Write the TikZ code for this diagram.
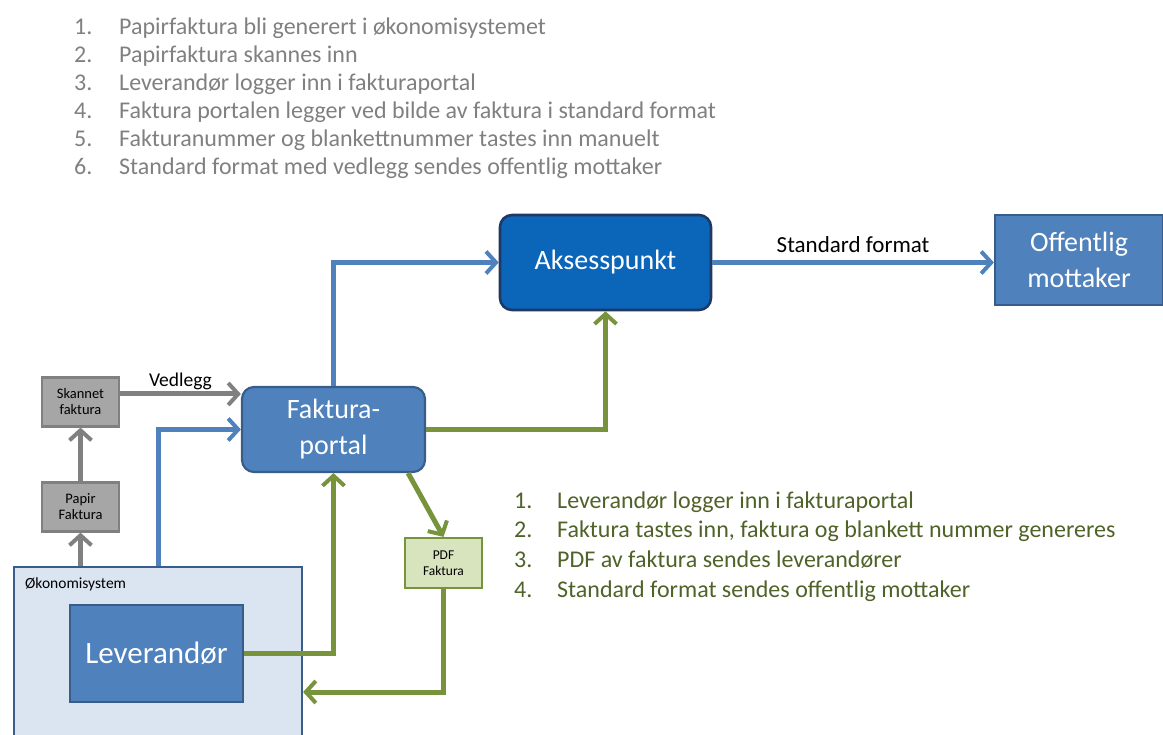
\documentclass[tikz,border=0pt]{standalone}
\usepackage{fontspec}
\setmainfont{Carlito}
\usetikzlibrary{positioning,calc,arrows.meta}

\definecolor{boxblue}{HTML}{4F81BD}
\definecolor{boxline}{HTML}{385D8A}
\definecolor{akblue}{HTML}{0B66BA}
\definecolor{akline}{HTML}{1F3864}
\definecolor{okofill}{HTML}{DBE5F1}
\definecolor{papgray}{HTML}{A6A6A6}
\definecolor{lingray}{HTML}{808080}
\definecolor{lingreen}{HTML}{77933C}
\definecolor{pdffill}{HTML}{D7E4BD}
\definecolor{txtgreen}{HTML}{4F6228}

\newcommand{\fs}[2]{\fontsize{#1}{#2}\selectfont}

\begin{document}
\begin{tikzpicture}[x=1pt, y=-1pt,
    bigbox/.style={draw=boxline, fill=boxblue, line width=2.2pt, text=white, align=center, font=\fs{28}{36}},
    smallbox/.style={draw=lingray, fill=papgray, line width=2.2pt, align=center, font=\fs{14.5}{16}, minimum width=77pt, minimum height=49pt, inner sep=0pt},
    flow/.style={line width=5pt, -{Straight Barb[length=10pt,width=22pt,line width=4pt]}},
    bflow/.style={flow, draw=boxblue},
    gflow/.style={flow, draw=lingreen},
    pflow/.style={flow, draw=lingray},
    greyitem/.style={anchor=base west, text=lingray, font=\fs{24}{24}, inner sep=0pt},
    greenitem/.style={anchor=base west, text=txtgreen, font=\fs{24}{24}, inner sep=0pt}
]
    \useasboundingbox (0,0) rectangle (1163,735);

    % steps, paper invoice
    \foreach \n/\t in {1/Papirfaktura bli generert i økonomisystemet,
                       2/Papirfaktura skannes inn,
                       3/Leverandør logger inn i fakturaportal,
                       4/Faktura portalen legger ved bilde av faktura i standard format,
                       5/Fakturanummer og blankettnummer tastes inn manuelt,
                       6/Standard format med vedlegg sendes offentlig mottaker}{
        \node[greyitem] (num\n) at (74,{35+28*(\n-1)}) {\n.};
        \node[greyitem] (step\n) at (119,{35+28*(\n-1)}) {\t};
    }

    \node[bigbox, fill=akblue, draw=akline, line width=2.6pt, rounded corners=12pt, minimum width=211pt, minimum height=95pt] (aks) at (605.5,262.5) {Aksesspunkt};
    \node[bigbox, minimum width=168pt, minimum height=90pt] (off) at (1079,260) {Offentlig\\mottaker};
    \node[bigbox, rounded corners=12pt, minimum width=183pt, minimum height=85pt] (portal) at (333.5,429.5) {Faktura-\\portal};

    \node[smallbox] (skan) at (80.5,402) {Skannet\\faktura};
    \node[smallbox] (papir) at (80.5,507) {Papir\\Faktura};

    \node[draw=boxline, fill=okofill, line width=2.2pt, minimum width=288pt, minimum height=180pt] (oko) at (158,657) {};
    \node[anchor=west, font=\fs{15.5}{16}, inner sep=0pt] (okolabel) at (25,584) {Økonomisystem};
    \node[bigbox, minimum width=173pt, minimum height=97pt, font=\fs{31}{36}] (lev) at (156.5,653.5) {Leverandør};

    \node[draw=lingreen, fill=pdffill, line width=2.2pt, minimum width=77pt, minimum height=50pt, inner sep=0pt, align=center, font=\fs{13.5}{16}] (pdf) at (443.5,563) {PDF\\Faktura};

    % paper route
    \draw[pflow] (oko.north -| papir.south) -- (papir.south);
    \draw[pflow] (papir.north) -- (skan.south);
    \draw[pflow] ([yshift=8pt]skan.east) -- node[above=-2pt, font=\fs{19.5}{20}, text=black] (vedl) {Vedlegg} ([yshift=8pt]skan.east -| portal.west);

    % blue route
    \draw[bflow] (oko.north) |- (portal.west);
    \draw[bflow] (portal.north) |- (aks.west);
    \draw[bflow] (aks.east) -- node[above=4pt, font=\fs{23}{24}, text=black] (stdf) {Standard format} (aks.east -| off.west);

    % green route
    \draw[gflow] (portal.east) -| (aks.south);
    \draw[gflow] (lev.east) -| (portal.south);
    \draw[gflow] ([xshift=-18pt]portal.south east) -- (pdf.north);
    \draw[gflow] (pdf.south) |- ([yshift=-35pt]oko.east);

    % steps, portal
    \foreach \n/\t in {1/Leverandør logger inn i fakturaportal,
                       2/{Faktura tastes inn, faktura og blankett nummer genereres},
                       3/PDF av faktura sendes leverandører,
                       4/Standard format sendes offentlig mottaker}{
        \node[greenitem] (gnum\n) at (514,{508+29.7*(\n-1)}) {\n.};
        \node[greenitem] (gstep\n) at (557,{508+29.7*(\n-1)}) {\t};
    }
\end{tikzpicture}
\end{document}
